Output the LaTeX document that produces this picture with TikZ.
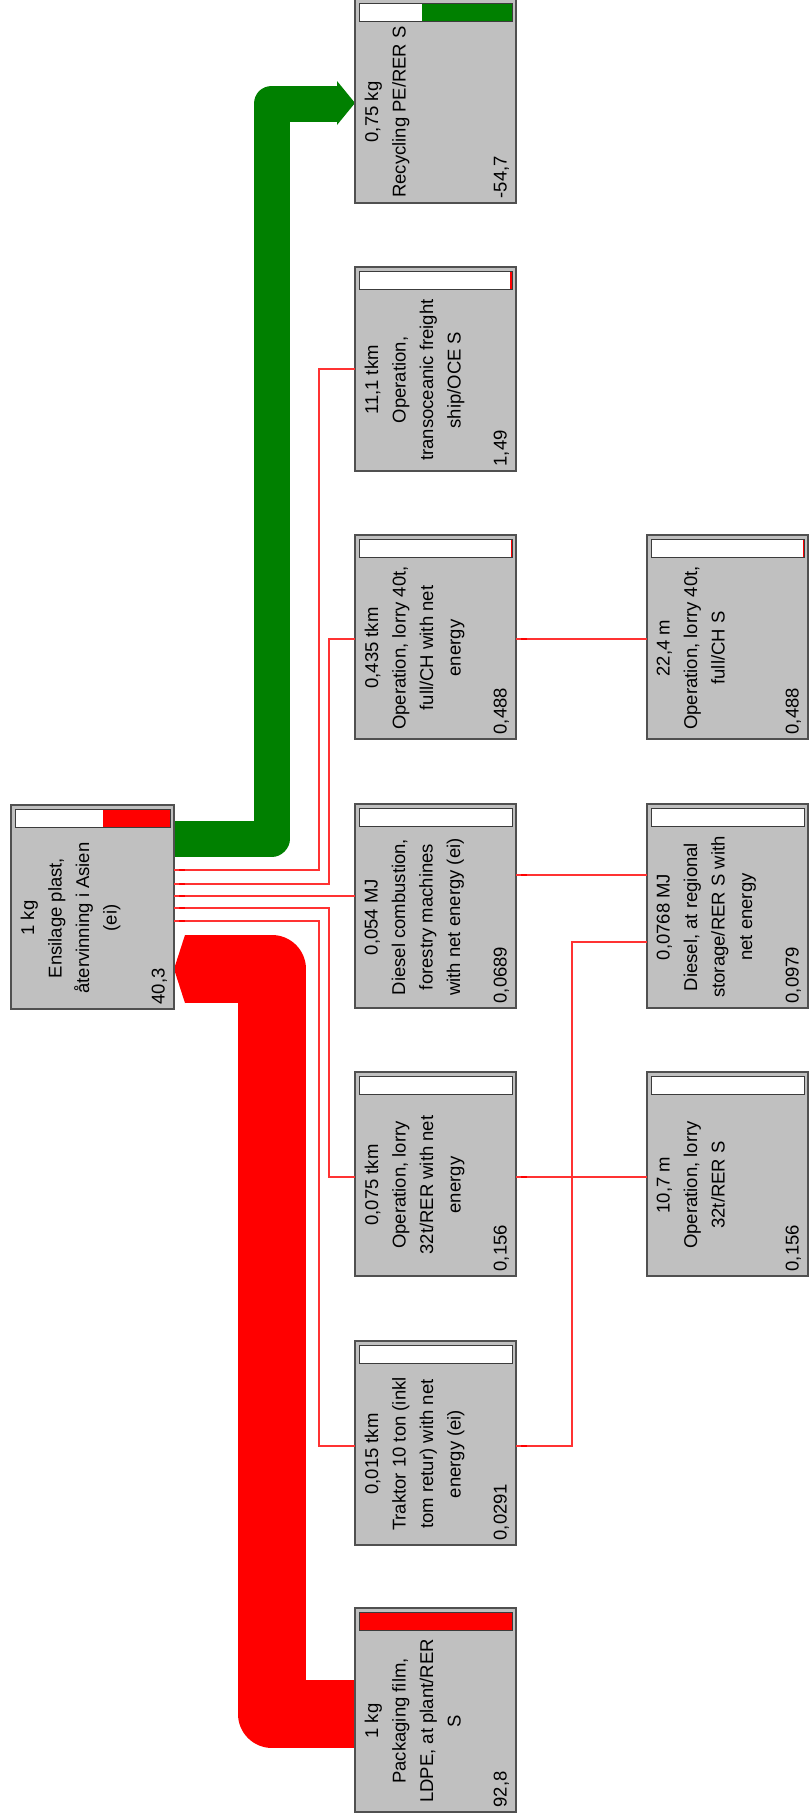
\documentclass[tikz,border=0pt]{standalone}
\usepackage{fontspec}
\setmainfont{Liberation Sans}
\usetikzlibrary{calc}
\definecolor{boxfill}{RGB}{192,192,192}
\definecolor{boxline}{RGB}{80,80,80}
\definecolor{barline}{RGB}{60,60,60}
\definecolor{sgreen}{RGB}{0,128,0}
\definecolor{sred}{RGB}{255,0,0}
\definecolor{thinred}{RGB}{255,50,50}
\tikzset{
  procbox/.style={draw=boxline, fill=boxfill, line width=1.5pt, minimum height=204pt,
    anchor=north west, inner sep=0pt, outer sep=0pt},
  barframe/.style={draw=barline, line width=1pt},
  boxtext/.style={rotate=90, align=center, inner sep=0pt, anchor=north,
    font=\fontsize{18.5pt}{27.5pt}\selectfont},
  valtext/.style={rotate=90, inner sep=0pt, anchor=base west,
    font=\fontsize{18.5pt}{27.5pt}\selectfont},
  thinflow/.style={draw=thinred, line width=1.2pt},
  tickmark/.style={fill=sred},
}
\newcommand\mkbox[8]{%
  \node[procbox, minimum width=#4pt] (#1) at (#2,#3) {};
  \fill[white] ($(#1.north west)+(4,4)$) rectangle ($(#1.north east)+(-4,22)$);
  \fill[#6] ($(#1.north east)+({-4-#5*(#4-8)},4)$) rectangle ($(#1.north east)+(-4,22)$);
  \draw[barframe] ($(#1.north west)+(4,4)$) rectangle ($(#1.north east)+(-4,22)$);
  \node[boxtext] (#1-t) at ($(#1.north west)+(9.5,113)$) {#7};
  \node[valtext] (#1-v) at ($(#1.south east)+(-9.5,-4.5)$) {#8};
}
\newcommand\tickat[1]{\fill[tickmark] ($(#1)+(5,-1.3)$) rectangle ($(#1)+(11,1.3)$);}
\begin{document}
\begin{tikzpicture}[x=1pt,y=-1pt]
\useasboundingbox (0,0) rectangle (809,1820);
\fill[white] (0,0) rectangle (809,1820);
\begin{scope}
\clip (0,0) rectangle (809,1820);
% thick flows
\coordinate (g0) at (174,838.5);
\coordinate (g1) at (271.5,838.5);
\coordinate (g2) at (271.5,103.5);
\coordinate (g3) at (337,103.5);
\draw[line width=36pt, sgreen, line join=round] (g0) -- (g1) -- (g2) -- (g3);
\fill[sgreen] (337,81) -- (355,103) -- (337,125) -- cycle;
\coordinate (r0) at (355,1714);
\coordinate (r1) at (272,1714);
\coordinate (r2) at (272,969);
\coordinate (r3) at (185,969);
\draw[line width=68pt, sred, line join=round] (r0) -- (r1) -- (r2) -- (r3);
\fill[sred] (185,935) -- (174,969) -- (185,1003) -- cycle;

% boxes
\mkbox{main}{11}{805}{163}{0.434}{sred}{1 kg\\Ensilage plast,\\återvinning i Asien\\(ei)}{40,3}
\mkbox{rec}{355}{-1}{161}{0.585}{sgreen}{0,75 kg\\Recycling PE/RER S}{-54,7}
\mkbox{tro}{355}{267}{161}{0.016}{sred}{11,1 tkm\\Operation,\\transoceanic freight\\ship/OCE S}{1,49}
\mkbox{lfn}{355}{535}{161}{0.008}{sred}{0,435 tkm\\Operation, lorry 40t,\\full/CH with net\\energy}{0,488}
\mkbox{dco}{355}{804}{161}{0}{white}{0,054 MJ\\Diesel combustion,\\forestry machines\\with net energy (ei)}{0,0689}
\mkbox{ltn}{355}{1072}{161}{0}{white}{0,075 tkm\\Operation, lorry\\32t/RER with net\\energy}{0,156}
\mkbox{tra}{355}{1341}{161}{0}{white}{0,015 tkm\\Traktor 10 ton (inkl\\tom retur) with net\\energy (ei)}{0,0291}
\mkbox{pkg}{355}{1608}{161}{1}{sred}{1 kg\\Packaging film,\\LDPE, at plant/RER\\S}{92,8}
\mkbox{lf}{647}{535}{161}{0.008}{sred}{22,4 m\\Operation, lorry 40t,\\full/CH S}{0,488}
\mkbox{dst}{647}{804}{161}{0}{white}{0,0768 MJ\\Diesel, at regional\\storage/RER S with\\net energy}{0,0979}
\mkbox{lt}{647}{1072}{161}{0}{white}{10,7 m\\Operation, lorry\\32t/RER S}{0,156}

% thin connectors into main box
\coordinate (m1) at (main.east |- 0,870);
\coordinate (m2) at (main.east |- 0,884);
\coordinate (m3) at (main.east |- 0,896);
\coordinate (m4) at (main.east |- 0,908);
\coordinate (m5) at (main.east |- 0,921);
\draw[thinflow] (tro.west |- 0,369) -- (319,369) -- (319,870) -- (m1);
\draw[thinflow] (lfn.west |- 0,639) -- (329,639) -- (329,884) -- (m2);
\draw[thinflow] (dco.west |- 0,896) -- (m3);
\draw[thinflow] (ltn.west |- 0,1177) -- (329,1177) -- (329,908) -- (m4);
\draw[thinflow] (tra.west |- 0,1446) -- (319,1446) -- (319,921) -- (m5);
\foreach \m in {m1,m2,m3,m4,m5} {\tickat{\m}}

% thin connectors from third column
\coordinate (c1) at (lfn.east |- 0,639);
\coordinate (c2) at (dco.east |- 0,875);
\coordinate (c3) at (tra.east |- 0,1446);
\coordinate (c4) at (ltn.east |- 0,1177);
\draw[thinflow] (lf.west |- 0,639) -- (c1);
\draw[thinflow] (dst.west |- 0,875) -- (c2);
\draw[thinflow] (dst.west |- 0,942) -- (572,942) -- (572,1446) -- (c3);
\draw[thinflow] (lt.west |- 0,1177) -- (c4);
\foreach \m in {c1,c2,c3,c4} {\tickat{\m}}
\end{scope}
\end{tikzpicture}
\end{document}
